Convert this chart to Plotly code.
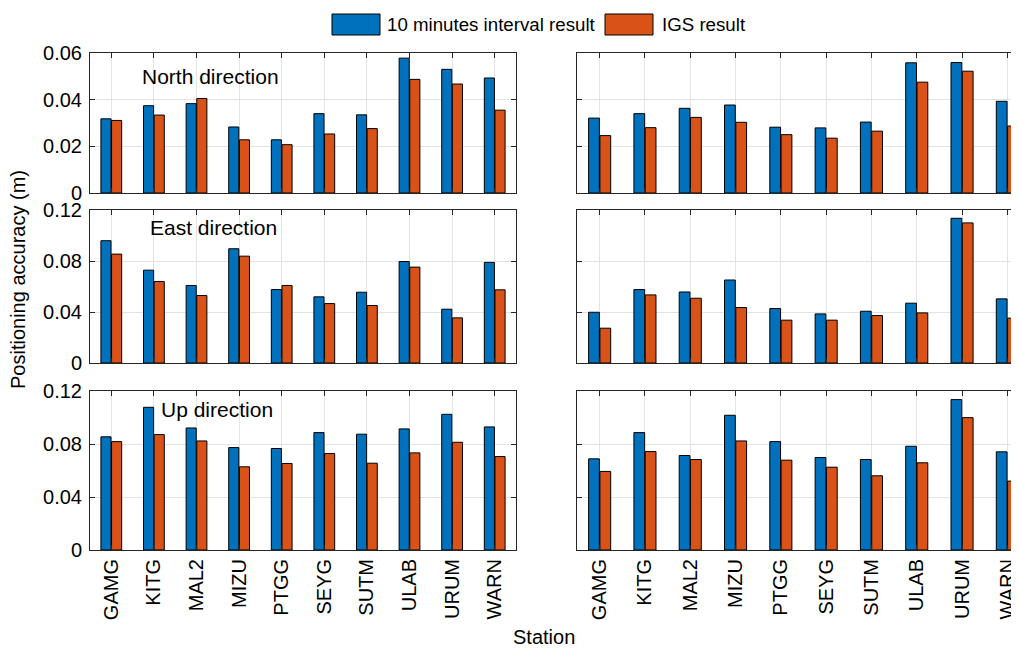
import plotly.graph_objects as go
from plotly.subplots import make_subplots

stations = ["GAMG", "KITG", "MAL2", "MIZU", "PTGG", "SEYG", "SUTM", "ULAB", "URUM", "WARN"]

# North direction (m)
north_left_10min = [0.0318, 0.0374, 0.0383, 0.0283, 0.0228, 0.0340, 0.0335, 0.0578, 0.0530, 0.0493]
north_left_igs = [0.0311, 0.0334, 0.0405, 0.0228, 0.0207, 0.0253, 0.0276, 0.0487, 0.0467, 0.0355]
north_right_10min = [0.0321, 0.0340, 0.0363, 0.0377, 0.0282, 0.0279, 0.0304, 0.0558, 0.0559, 0.0393]
north_right_igs = [0.0246, 0.0280, 0.0324, 0.0303, 0.0250, 0.0235, 0.0265, 0.0475, 0.0522, 0.0287]

# East direction (m)
east_left_10min = [0.0959, 0.0728, 0.0608, 0.0896, 0.0576, 0.0519, 0.0555, 0.0796, 0.0422, 0.0789]
east_left_igs = [0.0854, 0.0639, 0.0529, 0.0838, 0.0608, 0.0466, 0.0451, 0.0752, 0.0354, 0.0574]
east_right_10min = [0.0398, 0.0576, 0.0557, 0.0651, 0.0427, 0.0385, 0.0406, 0.0469, 0.1135, 0.0503]
east_right_igs = [0.0273, 0.0534, 0.0508, 0.0435, 0.0336, 0.0336, 0.0372, 0.0393, 0.1099, 0.0352]

# Up direction (m)
up_left_10min = [0.0854, 0.1077, 0.0921, 0.0773, 0.0766, 0.0886, 0.0874, 0.0914, 0.1024, 0.0929]
up_left_igs = [0.0818, 0.0871, 0.0823, 0.0628, 0.0653, 0.0728, 0.0655, 0.0733, 0.0813, 0.0705]
up_right_10min = [0.0688, 0.0886, 0.0713, 0.1017, 0.0818, 0.0698, 0.0683, 0.0783, 0.1135, 0.0741]
up_right_igs = [0.0593, 0.0743, 0.0683, 0.0823, 0.0678, 0.0625, 0.0560, 0.0658, 0.0999, 0.0520]

series_names = ["10 minutes interval result", "IGS result"]
row_titles = ["North direction", "East direction", "Up direction"]
y_max = [0.06, 0.12, 0.12]
y_tickvals = [[0, 0.02, 0.04, 0.06], [0, 0.04, 0.08, 0.12], [0, 0.04, 0.08, 0.12]]
y_ticktext = [["0", "0.02", "0.04", "0.06"], ["0", "0.04", "0.08", "0.12"], ["0", "0.04", "0.08", "0.12"]]

# The page body adds an 8px offset; the figure is sized to fill the rest of the window.
OFF = 8
VW, VH = 1019, 649
W, H = VW - OFF, VH - OFF
BLUE = "#0072BD"
ORANGE = "#D95319"
AXC = "#262626"
GRID = "#e3e3e3"
FONT = "Liberation Sans, Arial, Helvetica, sans-serif"

data = [
    [(north_left_10min, north_left_igs), (north_right_10min, north_right_igs)],
    [(east_left_10min, east_left_igs), (east_right_10min, east_right_igs)],
    [(up_left_10min, up_left_igs), (up_right_10min, up_right_igs)],
]

fig = make_subplots(rows=3, cols=2)

for r in range(3):
    for c in range(2):
        v10, vigs = data[r][c]
        fig.add_trace(go.Bar(x=stations, y=v10, name=series_names[0], marker_color=BLUE,
                             marker_line_color="black", marker_line_width=1, showlegend=False),
                      row=r + 1, col=c + 1)
        fig.add_trace(go.Bar(x=stations, y=vigs, name=series_names[1], marker_color=ORANGE,
                             marker_line_color="black", marker_line_width=1, showlegend=False),
                      row=r + 1, col=c + 1)


def px_x(p):
    return (p - OFF) / W


def px_y(p):
    return 1 - (p - OFF) / H


row_px = [(53, 193), (210, 363), (391, 550)]
col_px = [(90, 516), (577, VW)]
right_cat_w = 45.3

for r in range(3):
    for c in range(2):
        idx = r * 2 + c + 1
        xs = "xaxis" if idx == 1 else f"xaxis{idx}"
        ys = "yaxis" if idx == 1 else f"yaxis{idx}"
        x0, x1 = col_px[c]
        top, bot = row_px[r]
        xrange = [-0.5, 9.5] if c == 0 else [-0.5, -0.5 + (x1 - x0) / right_cat_w]
        fig.layout[xs].update(
            domain=[px_x(x0), min(1.0, px_x(x1))], automargin=False,
            type="category", categoryorder="array", categoryarray=stations,
            range=xrange, showline=True, linecolor=AXC, linewidth=1, mirror="ticks",
            ticks="inside", ticklen=5, tickcolor=AXC, showgrid=True, gridcolor=GRID,
            gridwidth=1, zeroline=False, showticklabels=(r == 2), tickangle=-90,
            tickfont=dict(size=20, color="black", family=FONT),
        )
        fig.layout[ys].update(
            domain=[px_y(bot), px_y(top)], automargin=False,
            range=[0, y_max[r]], tickvals=y_tickvals[r], ticktext=y_ticktext[r],
            showline=True, linecolor=AXC, linewidth=1, mirror=("ticks" if c == 0 else False),
            ticks="inside", ticklen=5, tickcolor=AXC, showgrid=True, gridcolor=GRID,
            gridwidth=1, zeroline=False, showticklabels=(c == 0), ticklabelstandoff=3,
            tickfont=dict(size=20, color="black", family=FONT),
        )

annotations = []
label_pos = [(140, 76.5), (148, 227.5), (159, 410)]
for r in range(3):
    annotations.append(dict(text=row_titles[r], xref="paper", yref="paper",
                            x=px_x(label_pos[r][0]), y=px_y(label_pos[r][1]),
                            xanchor="left", yanchor="middle", showarrow=False,
                            font=dict(size=21, color="black", family=FONT)))

annotations.append(dict(text="Positioning accuracy (m)", xref="paper", yref="paper",
                        x=px_x(18), y=px_y(280), textangle=-90, xanchor="center",
                        yanchor="middle", showarrow=False,
                        font=dict(size=20, color="black", family=FONT)))
annotations.append(dict(text="Station", xref="paper", yref="paper",
                        x=px_x(544), y=px_y(637), xanchor="center", yanchor="middle",
                        showarrow=False, font=dict(size=20, color="black", family=FONT)))

# Legend (custom, matching the large rectangular swatches)
shapes = []
legend_items = [(332, 380, 385, BLUE, series_names[0]), (605, 653, 660, ORANGE, series_names[1])]
for sx0, sx1, tx, col, name in legend_items:
    shapes.append(dict(type="rect", xref="paper", yref="paper",
                       x0=px_x(sx0), x1=px_x(sx1), y0=px_y(35), y1=px_y(14),
                       fillcolor=col, line=dict(color="black", width=1)))
    annotations.append(dict(text=name, xref="paper", yref="paper", x=px_x(tx), y=px_y(25),
                            xanchor="left", yanchor="middle", showarrow=False,
                            font=dict(size=18.7, color="black", family=FONT)))

fig.update_layout(
    width=W, height=H, margin=dict(l=0, r=0, t=0, b=0, autoexpand=False),
    paper_bgcolor="white", plot_bgcolor="white",
    barmode="group", bargap=0.5, bargroupgap=0.05,
    showlegend=False, annotations=annotations, shapes=shapes,
    font=dict(family=FONT, color="black"),
)

fig.write_html("out.html")
